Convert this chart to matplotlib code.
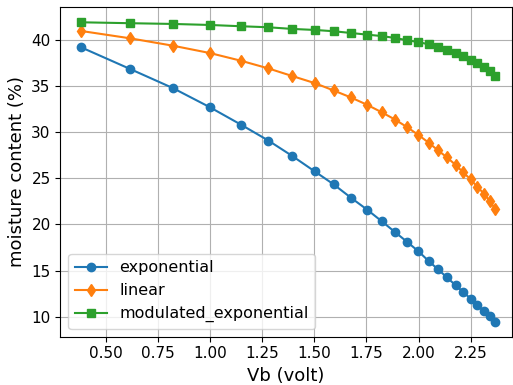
import matplotlib
matplotlib.use("Agg")
import matplotlib.pyplot as plt

vb = [0.382, 0.618, 0.823, 0.999, 1.149, 1.280, 1.395, 1.502, 1.593, 1.676,
      1.754, 1.823, 1.887, 1.946, 1.999, 2.048, 2.093, 2.136, 2.178, 2.214,
      2.250, 2.281, 2.314, 2.342, 2.368]

exponential = [39.21, 36.85, 34.78, 32.72, 30.82, 29.10, 27.42, 25.76, 24.35, 22.90,
               21.60, 20.36, 19.18, 18.10, 17.10, 16.05, 15.14, 14.27, 13.40, 12.68,
               11.96, 11.23, 10.62, 10.08, 9.46]

linear = [40.98, 40.18, 39.38, 38.59, 37.75, 36.92, 36.09, 35.33, 34.53, 33.77,
          32.97, 32.17, 31.38, 30.54, 29.71, 28.88, 28.04, 27.28, 26.45, 25.65,
          24.89, 24.10, 23.34, 22.53, 21.66]

modulated_exponential = [41.92, 41.82, 41.74, 41.63, 41.49, 41.38, 41.20, 41.09, 40.95, 40.76,
                         40.58, 40.43, 40.22, 39.97, 39.78, 39.53, 39.24, 38.88, 38.55, 38.23,
                         37.86, 37.50, 37.10, 36.60, 36.12]

fig = plt.figure(figsize=(5.13, 3.85), dpi=100)
ax = fig.add_axes([0.1177, 0.1255, 0.8803, 0.8555])

ax.plot(vb, exponential, marker='o', label='exponential')
ax.plot(vb, linear, marker='d', label='linear')
ax.plot(vb, modulated_exponential, marker='s', label='modulated_exponential')

ax.set_xlim(0.283, 2.448)
ax.set_xticks([0.5, 0.75, 1.0, 1.25, 1.5, 1.75, 2.0, 2.25])
ax.grid(True)
ax.tick_params(labelsize=11)
ax.set_xlabel('Vb (volt)', fontsize=13)
ax.set_ylabel('moisture content (%)', fontsize=13)
ax.legend(loc='lower left', fontsize=11.5)

fig.savefig('out.png', dpi=100)
